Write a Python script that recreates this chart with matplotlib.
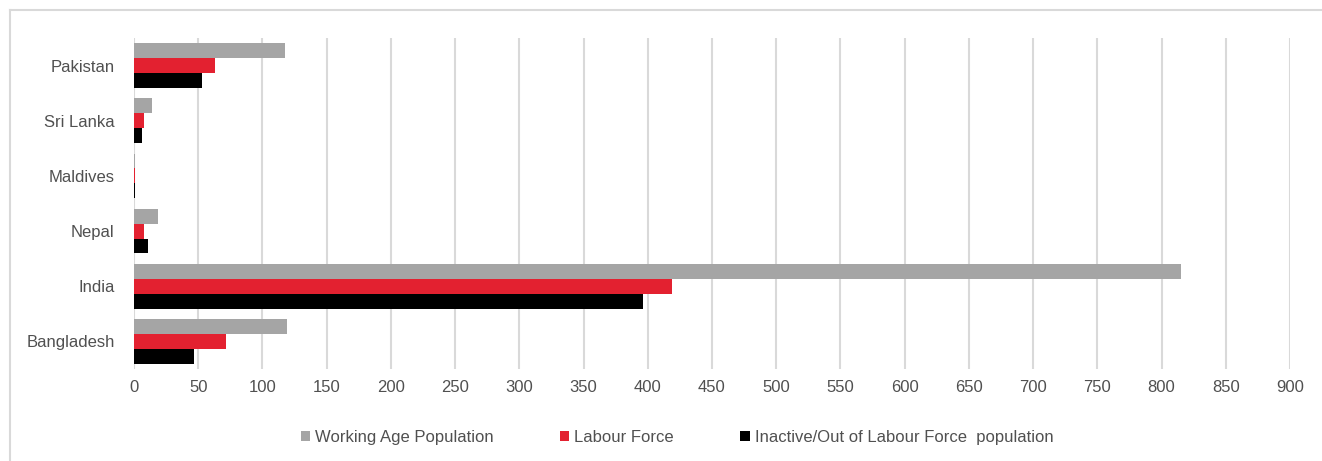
import matplotlib
matplotlib.use("Agg")
import matplotlib.pyplot as plt
from matplotlib.lines import Line2D
import numpy as np

countries = ["Bangladesh", "India", "Nepal", "Maldives", "Sri Lanka", "Pakistan"]
working_age = [119, 815, 19, 1.0, 14, 117.5]
labour_force = [72, 419, 8, 0.8, 8, 63]
inactive = [47, 396, 11, 0.8, 6, 53]
series_names = ["Working Age Population", "Labour Force", "Inactive/Out of Labour Force  population"]
colors = ["#A5A5A5", "#E32130", "#000000"]
xticks = list(range(0, 901, 50))

plt.rcParams['font.family'] = ['Liberation Sans', 'DejaVu Sans']
text_color = "#505050"

fig = plt.figure(figsize=(13.22, 4.61), dpi=100)
ax = fig.add_axes([134/1322, 1-369/461, (1290-134)/1322, (369-38)/461])

y = np.arange(len(countries))
h = 0.27
for i, (vals, c, name) in enumerate(zip([working_age, labour_force, inactive], colors, series_names)):
    ax.barh(y + (1 - i) * h, vals, height=h, color=c, label=name, zorder=3)

ax.set_xlim(0, 900)
ax.set_ylim(-0.5, len(countries) - 0.5)
ax.set_xticks(xticks)
ax.set_yticks(y)
ax.set_yticklabels(countries)
ax.tick_params(axis='both', length=0, labelsize=12, colors=text_color)
ax.tick_params(axis='y', pad=14)
ax.tick_params(axis='x', pad=8)
ax.grid(axis='x', color="#D9D9D9", linewidth=1.5, zorder=0)
for s in ax.spines.values():
    s.set_visible(False)

leg = fig.legend(loc='center', bbox_to_anchor=(0.512, 1-437/461), ncol=3, frameon=False,
                 fontsize=12, handlelength=0.55, handleheight=0.55, handletextpad=0.3,
                 columnspacing=4.0, labelcolor=text_color)

fig.add_artist(Line2D([10/1322, 1], [1-10/461, 1-10/461], color="#D9D9D9", linewidth=1.5))
fig.add_artist(Line2D([10/1322, 10/1322], [0, 1-10/461], color="#D9D9D9", linewidth=1.5))

fig.savefig("out.png", dpi=100)
